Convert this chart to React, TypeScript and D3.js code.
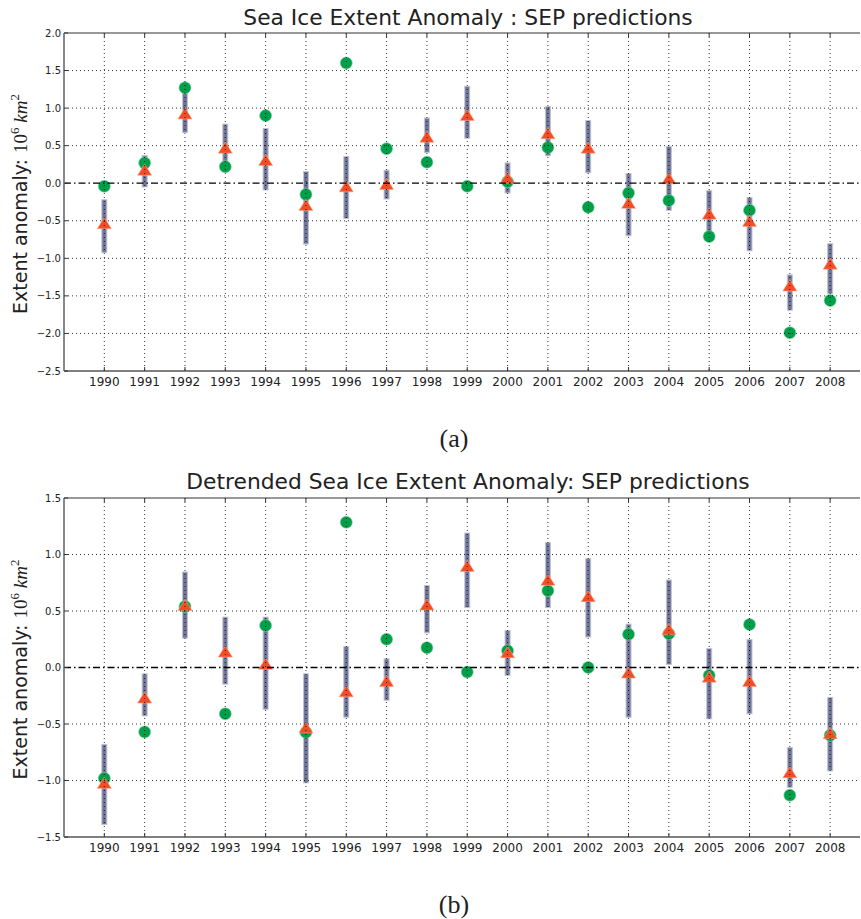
import React from "react";
import * as d3 from "d3";

const years = [1990,1991,1992,1993,1994,1995,1996,1997,1998,1999,2000,2001,2002,2003,2004,2005,2006,2007,2008];

// Panel (a): Sea Ice Extent Anomaly
const obsA = [-0.04,0.27,1.27,0.22,0.90,-0.15,1.60,0.46,0.28,-0.04,0.02,0.475,-0.32,-0.13,-0.23,-0.71,-0.36,-1.99,-1.56];
const predA = [-0.53,0.18,0.93,0.475,0.31,-0.29,-0.04,-0.01,0.62,0.91,0.075,0.667,0.475,-0.26,0.067,-0.405,-0.50,-1.36,-1.07];
const loA = [-0.925,-0.05,0.675,0.24,-0.09,-0.81,-0.47,-0.21,0.41,0.60,-0.13,0.365,0.14,-0.70,-0.36,-0.68,-0.90,-1.69,-1.47];
const hiA = [-0.22,0.37,1.20,0.787,0.73,0.155,0.355,0.173,0.867,1.29,0.27,1.02,0.835,0.13,0.49,-0.10,-0.19,-1.22,-0.805];
const yTicksA = [2.0,1.5,1.0,0.5,0.0,-0.5,-1.0,-1.5,-2.0,-2.5];

// Panel (b): Detrended Sea Ice Extent Anomaly
const obsB = [-0.98,-0.57,0.54,-0.41,0.372,-0.573,1.285,0.25,0.175,-0.04,0.148,0.68,0.0,0.295,0.298,-0.07,0.38,-1.13,-0.60];
const predB = [-1.02,-0.265,0.553,0.142,0.033,-0.53,-0.21,-0.118,0.558,0.90,0.136,0.777,0.632,-0.044,0.34,-0.08,-0.118,-0.927,-0.58];
const loB = [-1.39,-0.428,0.26,-0.147,-0.37,-1.02,-0.44,-0.29,0.307,0.53,-0.07,0.53,0.27,-0.44,0.027,-0.454,-0.41,-1.06,-0.915];
const hiB = [-0.68,-0.056,0.845,0.446,0.446,-0.056,0.186,0.077,0.726,1.19,0.328,1.105,0.963,0.384,0.774,0.168,0.248,-0.708,-0.266];
const yTicksB = [1.5,1.0,0.5,0.0,-0.5,-1.0,-1.5];

const GREEN = "#00a04a";
const RED = "#f24d24";
const BAR = "#72779a";

type PanelProps = {
  title: string;
  obs: number[];
  pred: number[];
  lo: number[];
  hi: number[];
  yTicks: number[];
  yDomain: [number, number];
  top: number;
  bottom: number;
  titleY: number;
  captionY: number;
  caption: string;
};

function Panel(p: PanelProps) {
  const left = 64, right = 860;
  const x = d3.scaleLinear().domain([1989, 2008.74]).range([left, right]);
  const y = d3.scaleLinear().domain(p.yDomain).range([p.bottom, p.top]);
  const fmt = (v: number) => (v < 0 ? "\u2212" + Math.abs(v).toFixed(1) : v.toFixed(1));
  const midY = (p.top + p.bottom) / 2 + 2;
  const tri = (cx: number, cy: number) => {
    const w = 7, h = 5.6;
    return `${cx},${cy - h} ${cx - w},${cy + h} ${cx + w},${cy + h}`;
  };
  return (
    <g>
      <text x={468} y={p.titleY} textAnchor="middle" fontFamily="DejaVu Sans" fontSize={21.8} fill="#222">{p.title}</text>
      {/* error bars */}
      {years.map((yr, i) => (
        <rect key={"b" + yr} x={x(yr) - 2.5} width={5} y={y(p.hi[i])} height={y(p.lo[i]) - y(p.hi[i])}
          fill={BAR} stroke="#c3c5d2" strokeWidth={1} />
      ))}
      {/* observed */}
      {years.map((yr, i) => (
        <circle key={"o" + yr} cx={x(yr)} cy={y(p.obs[i])} r={6} fill={GREEN} stroke="#7fcf9f" strokeWidth={0.6} />
      ))}
      {/* predicted */}
      {years.map((yr, i) => (
        <polygon key={"p" + yr} points={tri(x(yr), y(p.pred[i]))} fill={RED} stroke="#f7a58c" strokeWidth={0.6} />
      ))}
      {/* grid on top */}
      {years.map((yr) => (
        <line key={"gx" + yr} x1={x(yr)} x2={x(yr)} y1={p.top} y2={p.bottom} stroke="#000" strokeWidth={0.8} strokeDasharray="1,3" />
      ))}
      {p.yTicks.filter((t) => t !== 0 && t !== p.yDomain[0] && t !== p.yDomain[1]).map((t) => (
        <line key={"gy" + t} x1={left} x2={right} y1={y(t)} y2={y(t)} stroke="#000" strokeWidth={0.8} strokeDasharray="1,3" />
      ))}
      {/* zero line */}
      <line x1={left} x2={right} y1={y(0)} y2={y(0)} stroke="#000" strokeWidth={1.3} strokeDasharray="7,3,1.5,3" />
      {/* frame */}
      <line x1={left} x2={right} y1={p.top} y2={p.top} stroke="#333" strokeWidth={1.2} />
      <line x1={left} x2={right} y1={p.bottom} y2={p.bottom} stroke="#555" strokeWidth={1.6} />
      <line x1={left} x2={left} y1={p.top} y2={p.bottom} stroke="#888" strokeWidth={2} />
      {/* ticks */}
      {years.map((yr) => (
        <g key={"tx" + yr}>
          <line x1={x(yr)} x2={x(yr)} y1={p.bottom} y2={p.bottom - 4} stroke="#333" strokeWidth={1} />
          <line x1={x(yr)} x2={x(yr)} y1={p.top} y2={p.top + 4} stroke="#333" strokeWidth={1} />
          <text x={x(yr)} y={p.bottom + 15} textAnchor="middle" fontFamily="DejaVu Sans" fontSize={12} fill="#222">{yr}</text>
        </g>
      ))}
      {p.yTicks.map((t) => (
        <g key={"ty" + t}>
          <line x1={left} x2={left + 4} y1={y(t)} y2={y(t)} stroke="#333" strokeWidth={1} />
          <text x={61} y={y(t) + 3.5} textAnchor="end" fontFamily="DejaVu Sans" fontSize={10} fill="#222">{fmt(t)}</text>
        </g>
      ))}
      {/* y label */}
      <text transform={`translate(27,${midY}) rotate(-90)`} textAnchor="middle" fontSize={19} fill="#222">
        <tspan fontFamily="DejaVu Sans">Extent anomaly: </tspan>
        <tspan fontFamily="Liberation Serif">10</tspan>
        <tspan fontFamily="Liberation Serif" fontSize={13} dy={-8}>6</tspan>
        <tspan fontFamily="Liberation Serif" fontStyle="italic" dy={8}> km</tspan>
        <tspan fontFamily="Liberation Serif" fontSize={13} dy={-8}>2</tspan>
      </text>
      <text x={454} y={p.captionY} textAnchor="middle" fontFamily="Liberation Serif" fontSize={26} fill="#222">{p.caption}</text>
    </g>
  );
}

export default function App() {
  return (
    <svg width={861} height={919} style={{ position: "absolute", left: 0, top: 0, background: "#fff" }}>
      <rect width={861} height={919} fill="#fff" />
      <Panel title="Sea Ice Extent Anomaly : SEP predictions" obs={obsA} pred={predA} lo={loA} hi={hiA}
        yTicks={yTicksA} yDomain={[-2.5, 2]} top={33} bottom={371} titleY={25} captionY={447} caption="(a)" />
      <Panel title="Detrended Sea Ice Extent Anomaly: SEP predictions" obs={obsB} pred={predB} lo={loB} hi={hiB}
        yTicks={yTicksB} yDomain={[-1.5, 1.5]} top={498} bottom={837} titleY={489} captionY={913} caption="(b)" />
    </svg>
  );
}
